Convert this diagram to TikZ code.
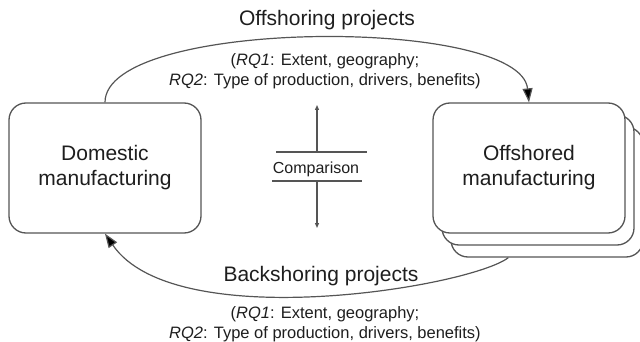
\documentclass[tikz,border=0pt]{standalone}
\usepackage{fontspec}
\setmainfont{Liberation Sans}
\usetikzlibrary{arrows.meta,calc}
\definecolor{linegray}{HTML}{555555}
\definecolor{txt}{HTML}{1E1E1E}
\tikzset{
  mbox/.style={draw=linegray, line width=1.3pt, rounded corners=17pt, fill=white,
    minimum width=192pt, minimum height=130pt, inner sep=0pt, align=center,
    font=\fontsize{21}{25}\selectfont, text=txt},
  bigtxt/.style={font=\fontsize{21}{25}\selectfont, text=txt, inner sep=0pt},
  rqtxt/.style={font=\fontsize{16.5}{19.5}\selectfont, text=txt, align=center, inner sep=0pt},
  cmptxt/.style={font=\fontsize{16}{19}\selectfont, text=txt, inner sep=0pt},
  flow/.style={draw=linegray, line width=1.2pt, -{Triangle[length=14pt,width=10pt,fill=black]}},
  cmparrow/.style={draw=linegray, line width=1.1pt, -{Triangle[length=5pt,width=4pt]}},
  cmpline/.style={draw=linegray, line width=1.3pt}
}
\begin{document}
\begin{tikzpicture}[x=1pt,y=-1pt]
\useasboundingbox (0,0) rectangle (640,342);
% offshored stack
\node[mbox] (off3) at (547,192) {};
\node[mbox] (off2) at (538,180) {};
\node[mbox] (off) at (529,168) {Offshored\\manufacturing};
% domestic
\node[mbox] (dom) at (105,168) {Domestic\\manufacturing};
% texts
\node[bigtxt] (ttop) at (327,20) {Offshoring projects};
\node[rqtxt] (rqtop) at (325,71) {(\textit{RQ1}: Extent, geography;\\\textit{RQ2}: Type of production, drivers, benefits)};
\node[bigtxt] (tbot) at (321,276) {Backshoring projects};
\node[rqtxt] (rqbot) at (325,324) {(\textit{RQ1}: Extent, geography;\\\textit{RQ2}: Type of production, drivers, benefits)};
% arcs
\draw[flow] (dom.north) .. controls (105,18) and (520,16) .. (off.north);
\coordinate (bstart) at ($(off3.south west)!0.3!(off3.south east)$);
\draw[flow] (bstart) .. controls (470,287) and (175,336) .. (dom.south);
% comparison
\node[cmptxt] (cmp) at (316,169) {Comparison};
\coordinate (ul) at (276,152); \coordinate (ur) at (367,152);
\coordinate (ll) at (272,181); \coordinate (lr) at (362,181);
\coordinate (cu) at (317,152); \coordinate (cut) at (317,105);
\coordinate (cl) at (317,181); \coordinate (clt) at (317,228);
\draw[cmpline] (ul) -- (ur);
\draw[cmpline] (ll) -- (lr);
\draw[cmparrow] (cu) -- (cut);
\draw[cmparrow] (cl) -- (clt);
\end{tikzpicture}
\end{document}
